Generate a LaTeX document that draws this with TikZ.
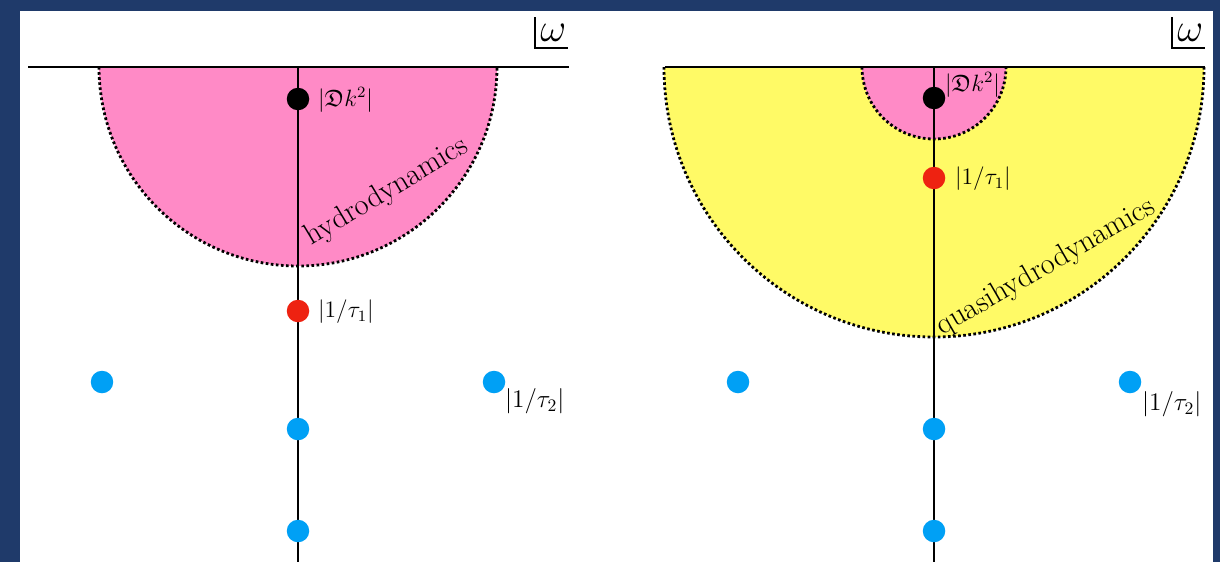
\documentclass[tikz,border=0pt]{standalone}
\usepackage{amsmath,amssymb}
\usepackage{graphicx}
\usepackage{xcolor}
\usetikzlibrary{positioning}

\definecolor{slideblue}{RGB}{31,58,106}
\definecolor{hydropink}{RGB}{255,138,198}
\definecolor{quasiyellow}{RGB}{255,250,102}
\definecolor{poleblue}{RGB}{0,160,245}
\definecolor{polered}{RGB}{238,34,17}

\newcommand{\polelab}[1]{\scalebox{1.12}{#1}}

\tikzset{
  pole/.style={circle, inner sep=0pt, minimum size=0.45cm},
  polelabel/.style={anchor=west, inner sep=1pt, font=\large},
  farlabel/.style={anchor=west, inner sep=1pt, font=\Large},
  boundary/.style={line width=1.6pt, dash pattern=on 1.5pt off 1.4pt},
  axisline/.style={line width=1.6pt},
  planecorner/.style={line width=1.4pt}
}

\begin{document}
\begin{tikzpicture}[x=0.02cm, y=-0.02cm]

% Geometry parameters (pixels, y downwards)
\def\yR{67}       % real axis
\def\xA{298}      % imaginary axis, left plane
\def\xB{934}      % imaginary axis, right plane
\def\rHydro{199}  % hydrodynamic radius
\def\rQuasi{270}  % quasihydrodynamic radius
\def\rInner{72}   % inner radius, right plane

% Slide frame
\fill[slideblue] (0,0) rectangle (1220,562);
\fill[white] (20,11) rectangle (1213,562);
\useasboundingbox (0,0) rectangle (1220,562);

% Left plane: hydrodynamic region
\fill[hydropink] (\xA-\rHydro,\yR) arc[start angle=180, end angle=0, radius=\rHydro] -- cycle;
\draw[boundary] (\xA-\rHydro,\yR) arc[start angle=180, end angle=0, radius=\rHydro];

% Right plane: quasihydrodynamic region
\fill[quasiyellow] (\xB-\rQuasi,\yR) arc[start angle=180, end angle=0, radius=\rQuasi] -- cycle;
\draw[boundary] (\xB-\rQuasi,\yR) arc[start angle=180, end angle=0, radius=\rQuasi];
\fill[hydropink] (\xB-\rInner,\yR) arc[start angle=180, end angle=0, radius=\rInner] -- cycle;
\draw[boundary] (\xB-\rInner,\yR) arc[start angle=180, end angle=0, radius=\rInner];

% Axes
\draw[axisline] (28,\yR) -- (569,\yR);
\draw[axisline] (\xA,\yR) -- (\xA,562);
\draw[axisline] (665,\yR) -- (1205,\yR);
\draw[axisline] (\xB,\yR) -- (\xB,562);

% Plane labels
\draw[planecorner] (535,17) -- (535,48) -- (568,48);
\node[anchor=base west, inner sep=0pt] (omA) at (540,41) {\huge\scalebox{1.1}{$\omega$}};
\draw[planecorner] (1172,17) -- (1172,48) -- (1205,48);
\node[anchor=base west, inner sep=0pt] (omB) at (1177,41) {\huge\scalebox{1.1}{$\omega$}};

% Region names
\node[rotate=31, font=\LARGE] (hydro) at (387,192) {hydrodynamics};
\node[rotate=30, font=\LARGE] (quasi) at (1046,267) {quasihydrodynamics};

% Poles, left plane
\node[pole, fill=black] (diffA) at (\xA,99) {};
\node[pole, fill=polered] (tauA) at (\xA,311) {};
\node[pole, fill=poleblue] (blA1) at (102,382) {};
\node[pole, fill=poleblue] (blA2) at (494,382) {};
\node[pole, fill=poleblue] (blA3) at (\xA,429) {};
\node[pole, fill=poleblue] (blA4) at (\xA,531) {};

% Poles, right plane
\node[pole, fill=black] (diffB) at (\xB,98) {};
\node[pole, fill=polered] (tauB) at (\xB,178) {};
\node[pole, fill=poleblue] (blB1) at (738,382) {};
\node[pole, fill=poleblue] (blB2) at (1130,382) {};
\node[pole, fill=poleblue] (blB3) at (\xB,429) {};
\node[pole, fill=poleblue] (blB4) at (\xB,531) {};

% Pole labels
\node[polelabel] (ldiffA) at (316,100) {\polelab{$|\mathfrak{D}k^2|$}};
\node[polelabel] (ltauA) at (316,312) {\polelab{$|1/\tau_1|$}};
\node[farlabel] (lblA) at (503,401) {$|1/\tau_2|$};
\node[polelabel] (ldiffB) at (943,85) {\polelab{$|\mathfrak{D}k^2|$}};
\node[polelabel] (ltauB) at (953,179) {\polelab{$|1/\tau_1|$}};
\node[farlabel] (lblB) at (1140,404) {$|1/\tau_2|$};

\end{tikzpicture}
\end{document}
